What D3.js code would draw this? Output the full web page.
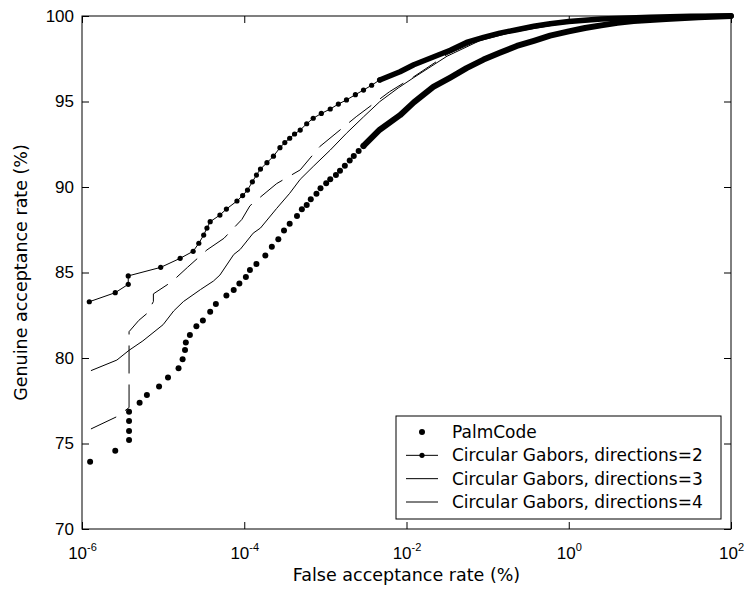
<!DOCTYPE html>
<html>
<head>
<meta charset="utf-8">
<script src="https://cdn.jsdelivr.net/npm/d3@7"></script>
<style>
  body { margin: 0; background: #fff; }
  svg { display: block; }
</style>
</head>
<body>
<div id="chart"></div>
<script>
// values: log10 of false acceptance rate (%) and genuine acceptance rate (%)
const palmLogFar = [-5.90,-5.59,-5.42,-5.42,-5.42,-5.42,-5.29,-5.20,-5.05,-4.94,-4.81,-4.76,-4.73,-4.72,-4.67,-4.59,-4.51,-4.42,-4.35,-4.22,-4.13,-4.06,-3.98,-3.93,-3.85,-3.74,-3.66,-3.58,-3.51,-3.44,-3.35,-3.29,-3.23,-3.18,-3.11,-3.06,-2.99,-2.94,-2.87,-2.82,-2.76,-2.70,-2.65,-2.59,-2.53];
const palmGar = [73.94,74.58,75.20,75.73,76.32,76.86,77.39,77.84,78.34,78.86,79.40,79.92,80.47,80.90,81.35,81.85,82.20,82.70,83.16,83.65,83.98,84.35,84.74,85.15,85.50,86.00,86.50,86.95,87.45,87.85,88.30,88.70,88.95,89.28,89.60,89.92,90.22,90.45,90.70,90.95,91.25,91.55,91.82,92.10,92.40];
// where the PalmCode markers overlap into a solid band
const palmBandLogFar = [-2.53,-2.33,-2.08,-1.91,-1.67,-1.46,-1.26,-1.05,-0.85,-0.64,-0.43,-0.23,0,0.2,0.4,0.6,0.8,1.2,1.6,2];
const palmBandGar = [92.40,93.35,94.2,94.95,95.85,96.4,96.95,97.45,97.85,98.25,98.55,98.85,99.1,99.3,99.45,99.6,99.7,99.82,99.93,100];

const dir2LogFar = [-5.91,-5.59,-5.43,-5.43,-5.03,-4.79,-4.63,-4.56,-4.50,-4.46,-4.42,-4.30,-4.22,-4.09,-4.02,-3.96,-3.90,-3.85,-3.80,-3.72,-3.64,-3.56,-3.50,-3.44,-3.38,-3.31,-3.23,-3.15,-3.05,-2.94,-2.84,-2.74,-2.63,-2.53,-2.43,-2.33];
const dir2Gar = [83.29,83.82,84.31,84.80,85.30,85.83,86.24,86.71,87.19,87.60,87.97,88.36,88.71,89.18,89.50,89.82,90.30,90.70,91.05,91.42,91.80,92.30,92.60,92.85,93.10,93.33,93.70,94.02,94.30,94.56,94.85,95.09,95.40,95.67,95.95,96.26];
const dir2BandLogFar = [-2.33,-2.08,-1.91,-1.67,-1.46,-1.26,-1.05,-0.85,-0.64,-0.43,-0.23,0,0.4,1,1.5,2];
const dir2BandGar = [96.26,96.74,97.15,97.6,98.0,98.45,98.75,99.0,99.2,99.4,99.55,99.68,99.82,99.93,99.98,100];

const dir3LogFar = [-5.89,-5.57,-5.42,-5.25,-5.0,-4.87,-4.75,-4.54,-4.38,-4.30,-4.13,-4.05,-3.89,-3.80,-3.60,-3.44,-3.31,-3.15,-2.94,-2.74,-2.53,-2.33,-2.10,-1.91,-1.50,-1.10,-0.70,0,1,2];
const dir3Gar = [79.26,79.88,80.45,81.0,81.95,82.75,83.3,84.0,84.5,84.85,86.05,86.35,87.3,87.6,88.75,89.63,90.45,91.2,92.16,93.14,94.1,94.99,95.8,96.4,97.65,98.55,99.05,99.62,99.92,100];

const dir4LogFar = [-5.89,-5.57,-5.42,-5.42,-5.30,-5.20,-5.12,-5.12,-4.89,-4.70,-4.46,-4.25,-4.03,-3.93,-3.72,-3.60,-3.31,-3.07,-2.62,-2.21,-1.91,-1.50,-1.10,-0.70,0,1,2];
const dir4Gar = [75.85,76.57,77.10,81.54,82.20,82.60,83.30,83.75,84.47,85.30,86.32,87.0,88.10,88.90,89.73,90.20,91.0,92.36,94.11,95.57,96.45,97.75,98.6,99.1,99.65,99.93,100];

const xTicks = [1e-6, 1e-4, 1e-2, 1, 1e2];
const xTickExp = ["-6", "-4", "-2", "0", "2"];
const yTicks = [70, 75, 80, 85, 90, 95, 100];
const legendLabels = ["PalmCode", "Circular Gabors, directions=2", "Circular Gabors, directions=3", "Circular Gabors, directions=4"];

const width = 747, height = 596;
const margin = {top: 16, right: 16, bottom: 67, left: 82};
const textFont = "'DejaVu Sans', sans-serif";
const numFont = "'Liberation Sans', Arial, sans-serif";

const svg = d3.select("#chart").append("svg")
    .attr("width", width)
    .attr("height", height)
    .style("background", "#fff");

const x = d3.scaleLog().domain([1e-6, 1e2]).range([margin.left, width - margin.right]);
const y = d3.scaleLinear().domain([70, 100]).range([height - margin.bottom, margin.top]);

const toPoints = (logs, gars) => logs.map((e, i) => [Math.pow(10, e), gars[i]]);
const line = d3.line().x(d => x(d[0])).y(d => y(d[1]));

const palm = toPoints(palmLogFar, palmGar);
const palmBand = toPoints(palmBandLogFar, palmBandGar);
const dir2 = toPoints(dir2LogFar, dir2Gar);
const dir2Band = toPoints(dir2BandLogFar, dir2BandGar);
const dir3 = toPoints(dir3LogFar, dir3Gar);
const dir4 = toPoints(dir4LogFar, dir4Gar);

const plot = svg.append("g");

// thin lines
plot.append("path").datum(dir4)
    .attr("d", line)
    .attr("fill", "none").attr("stroke", "#000").attr("stroke-width", 1)
    .attr("stroke-dasharray", "28,11");

plot.append("path").datum(dir3)
    .attr("d", line)
    .attr("fill", "none").attr("stroke", "#000").attr("stroke-width", 1);

plot.append("path").datum(dir2)
    .attr("d", line)
    .attr("fill", "none").attr("stroke", "#000").attr("stroke-width", 1);

// dense marker bands
plot.append("path").datum(dir2Band)
    .attr("d", line)
    .attr("fill", "none").attr("stroke", "#000").attr("stroke-width", 5.5)
    .attr("stroke-linecap", "round").attr("stroke-linejoin", "round");

plot.append("path").datum(palmBand)
    .attr("d", line)
    .attr("fill", "none").attr("stroke", "#000").attr("stroke-width", 6)
    .attr("stroke-linecap", "round").attr("stroke-linejoin", "round");

plot.selectAll(".dir2-dot")
    .data(dir2)
    .join("circle")
    .attr("class", "dir2-dot")
    .attr("cx", d => x(d[0]))
    .attr("cy", d => y(d[1]))
    .attr("r", 2.6)
    .attr("fill", "#000");

plot.selectAll(".palm-dot")
    .data(palm)
    .join("circle")
    .attr("class", "palm-dot")
    .attr("cx", d => x(d[0]))
    .attr("cy", d => y(d[1]))
    .attr("r", 3)
    .attr("fill", "#000");

// axes, ticks pointing inward on all four sides
const styleAxis = g => {
    g.select(".domain").remove();
    g.selectAll(".tick line").attr("stroke", "#000");
};

svg.append("g")
    .attr("transform", `translate(0,${height - margin.bottom})`)
    .call(d3.axisBottom(x).tickValues(xTicks).tickSizeInner(-7).tickSizeOuter(0).tickPadding(18).tickFormat(() => ""))
    .call(styleAxis)
    .selectAll(".tick text")
    .each(function(d, i) {
        const t = d3.select(this)
            .attr("font-family", numFont)
            .attr("font-size", 17)
            .attr("fill", "#000")
            .attr("text-anchor", "middle");
        t.append("tspan").text("10");
        t.append("tspan").attr("dy", -8).attr("font-size", 11).text(xTickExp[i]);
    });

svg.append("g")
    .attr("transform", `translate(0,${margin.top})`)
    .call(d3.axisTop(x).tickValues(xTicks).tickSizeInner(-7).tickSizeOuter(0).tickFormat(""))
    .call(styleAxis);

svg.append("g")
    .attr("transform", `translate(${margin.left},0)`)
    .call(d3.axisLeft(y).tickValues(yTicks).tickSizeInner(-7).tickSizeOuter(0).tickPadding(8))
    .call(styleAxis)
    .selectAll(".tick text")
    .attr("font-family", numFont)
    .attr("font-size", 17)
    .attr("fill", "#000");

svg.append("g")
    .attr("transform", `translate(${width - margin.right},0)`)
    .call(d3.axisRight(y).tickValues(yTicks).tickSizeInner(-7).tickSizeOuter(0).tickFormat(""))
    .call(styleAxis);

svg.append("rect")
    .attr("x", margin.left)
    .attr("y", margin.top)
    .attr("width", width - margin.left - margin.right)
    .attr("height", height - margin.top - margin.bottom)
    .attr("fill", "none")
    .attr("stroke", "#000")
    .attr("stroke-width", 1);

// axis titles
svg.append("text")
    .attr("x", (margin.left + width - margin.right) / 2)
    .attr("y", 581)
    .attr("text-anchor", "middle")
    .attr("font-family", textFont)
    .attr("font-size", 17.5)
    .attr("fill", "#000")
    .text("False acceptance rate (%)");

svg.append("text")
    .attr("transform", `translate(21,${(margin.top + height - margin.bottom) / 2}) rotate(-90)`)
    .attr("text-anchor", "middle")
    .attr("dy", "0.35em")
    .attr("font-family", textFont)
    .attr("font-size", 17.5)
    .attr("fill", "#000")
    .text("Genuine acceptance rate (%)");

// legend
const legend = svg.append("g").attr("transform", "translate(396,416)");
legend.append("rect")
    .attr("width", 325)
    .attr("height", 103)
    .attr("fill", "#fff")
    .attr("stroke", "#000");

const rowY = d3.scalePoint().domain(legendLabels).range([16, 86]);

legendLabels.forEach((label, i) => {
    const ry = rowY(label);
    if (i > 0) {
        legend.append("line")
            .attr("x1", 10).attr("x2", 42)
            .attr("y1", ry).attr("y2", ry)
            .attr("stroke", "#000").attr("stroke-width", 1);
    }
    if (i < 2) {
        legend.append("circle")
            .attr("cx", 26).attr("cy", ry)
            .attr("r", i === 0 ? 3 : 2.6)
            .attr("fill", "#000");
    }
    legend.append("text")
        .attr("x", 56)
        .attr("y", ry)
        .attr("dy", "0.36em")
        .attr("font-family", textFont)
        .attr("font-size", 17)
        .attr("fill", "#000")
        .text(label);
});
</script>
</body>
</html>
